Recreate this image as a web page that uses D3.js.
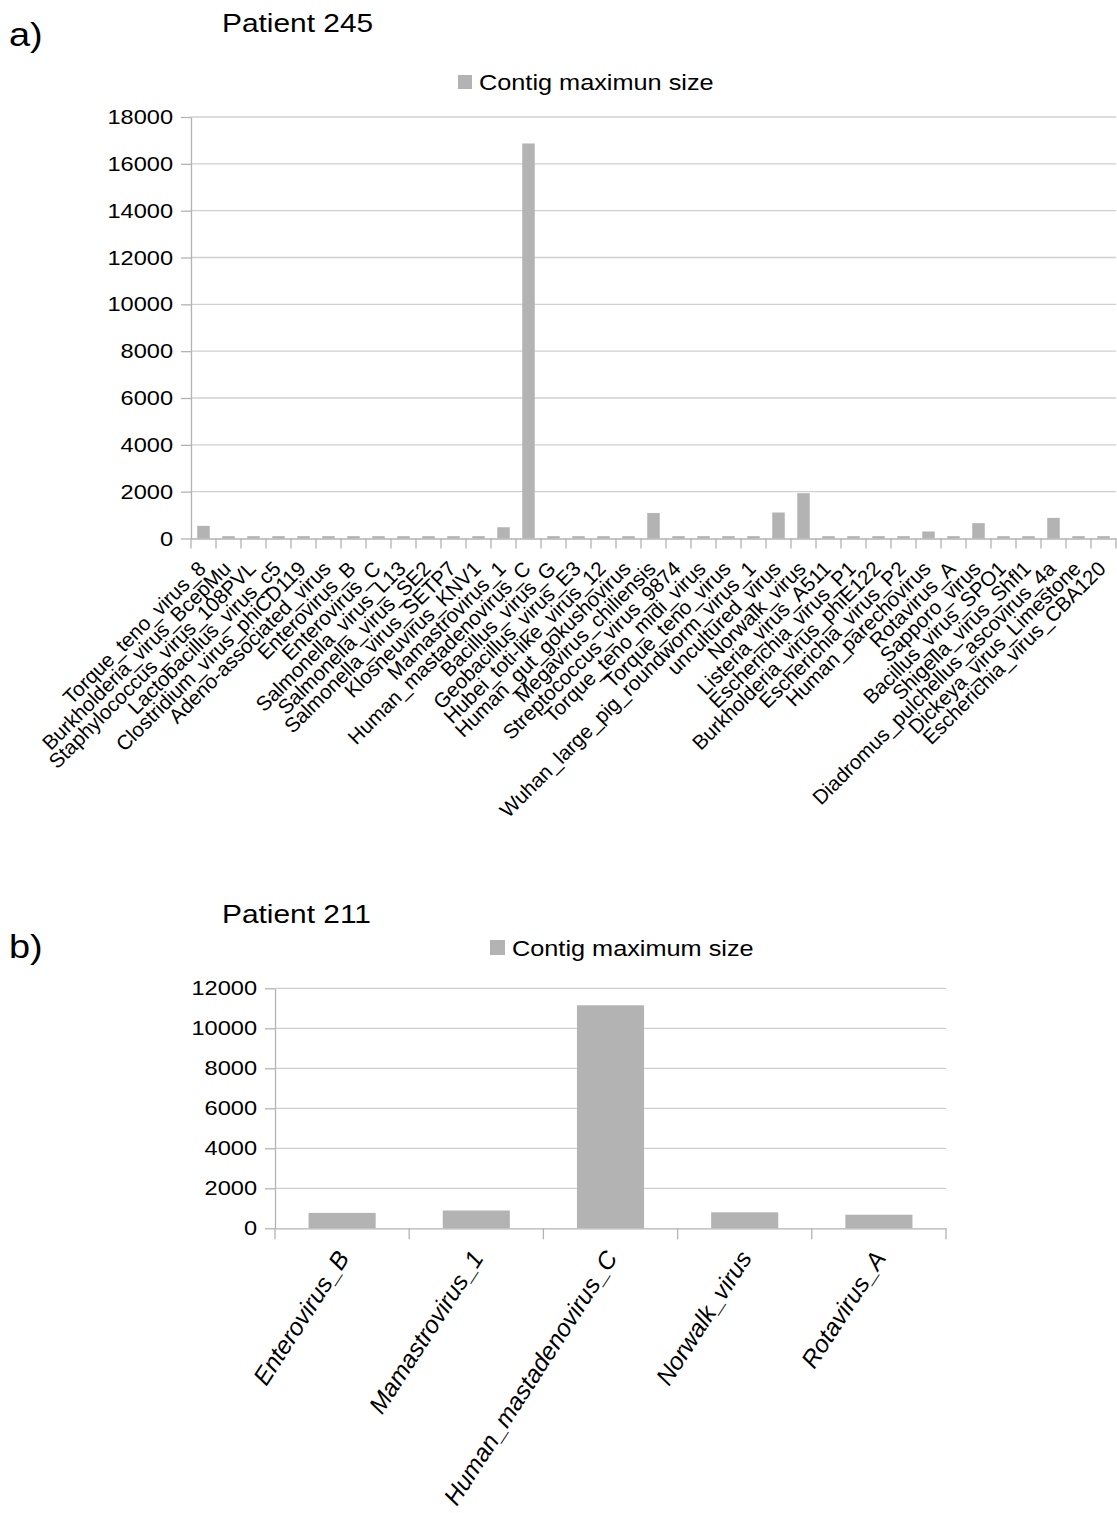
<!DOCTYPE html>
<html>
<head>
<meta charset="utf-8">
<script src="https://cdn.jsdelivr.net/npm/d3@7"></script>
<style>
body { margin:0; background:#fff; }
svg text { font-family:"Liberation Sans", Arial, sans-serif; fill:#000; }
</style>
</head>
<body>
<svg width="1117" height="1513"></svg>
<script>
// patient 245
var virusesA = ["Torque_teno_virus_8","Burkholderia_virus_BcepMu","Staphylococcus_virus_108PVL",
	"Lactobacillus_virus_c5","Clostridium_virus_phiCD119","Adeno-associated_virus","Enterovirus_B",
	"Enterovirus_C","Salmonella_virus_L13","Salmonella_virus_SE2","Salmonella_virus_SETP7",
	"Klosneuvirus_KNV1","Mamastrovirus_1","Human_mastadenovirus_C","Bacillus_virus_G",
	"Geobacillus_virus_E3","Hubei_toti-like_virus_12","Human_gut_gokushovirus","Megavirus_chiliensis",
	"Streptococcus_virus_9874","Torque_teno_midi_virus","Torque_teno_virus",
	"Wuhan_large_pig_roundworm_virus_1","uncultured_virus","Norwalk_virus","Listeria_virus_A511",
	"Escherichia_virus_P1","Burkholderia_virus_phiE122","Escherichia_virus_P2","Human_parechovirus",
	"Rotavirus_A","Sapporo_virus","Bacillus_virus_SPO1","Shigella_virus_Shfl1",
	"Diadromus_pulchellus_ascovirus_4a","Dickeya_virus_Limestone","Escherichia_virus_CBA120"];
var sizesA = [540,100,100,100,100,100,100,100,100,100,100,100,480,16870,100,100,100,100,1090,
	100,100,100,100,1110,1935,100,100,100,100,300,100,655,100,100,880,100,100];
var ticksA = [0,2000,4000,6000,8000,10000,12000,14000,16000,18000];

// patient 211
var virusesB = ["Enterovirus_B","Mamastrovirus_1","Human_mastadenovirus_C","Norwalk_virus","Rotavirus_A"];
var sizesB = [770,890,11150,800,680];
var ticksB = [0,2000,4000,6000,8000,10000,12000];

const BAR = "#b3b3b3";
const AXIS = "#b3b3b3";
const GRID = "#d0d0d0";
const SX = 1.15;	// horizontal text is a little wide in the picture

var svg = d3.select("svg");

function txt(x, y, s, size){
	return svg.append("text")
		.attr("transform", "translate("+x+","+y+") scale("+SX+",1)")
		.attr("font-size", size)
		.text(s);
}

function drawChart(c){
	var g = svg.append("g");
	var x = d3.scaleBand().domain(c.names).range([c.left, c.right])
		.paddingInner(0.5).paddingOuter(0.25);
	var y = d3.scaleLinear().domain([0, c.ticks[c.ticks.length-1]]).range([c.bottom, c.top]);

	g.selectAll(".grid").data(c.ticks.slice(1))
	.enter().append("line")
	.attr("x1", c.left).attr("x2", c.right)
	.attr("y1", function(d){ return y(d); })
	.attr("y2", function(d){ return y(d); })
	.style("stroke", GRID).style("stroke-width", 1.3);

	g.selectAll(".bar").data(c.names)
	.enter().append("rect")
	.attr("x", function(d){ return x(d); })
	.attr("width", x.bandwidth())
	.attr("y", function(d, i){ return y(c.values[i]); })
	.attr("height", function(d, i){ return y(0) - y(c.values[i]); })
	.style("fill", BAR);

	// y axis
	var ya = g.append("g").attr("transform", "translate("+c.left+",0)")
		.call(d3.axisLeft(y).tickValues(c.ticks).tickSize(10).tickSizeOuter(0).tickPadding(8)
			.tickFormat(d3.format("d")));
	ya.attr("font-family", null).attr("font-size", null);
	ya.selectAll("line, path").attr("stroke", AXIS).attr("stroke-width", 1.3);
	ya.selectAll("text").attr("font-size", 20.5)
		.attr("x", -18/SX).attr("transform", "scale("+SX+",1)");

	// x axis, ticks between the bands
	var xa = g.append("g").attr("transform", "translate(0,"+c.bottom+")")
		.call(d3.axisBottom(x).tickValues([]).tickSizeOuter(0));
	xa.select(".domain").attr("stroke", AXIS).attr("stroke-width", 1.3);
	var gap = (x.step() - x.bandwidth())/2;
	var edges = c.names.map(function(d){ return x(d) - gap; });
	edges.push(c.right);
	g.selectAll(".xtick").data(edges)
	.enter().append("line")
	.attr("x1", function(d){ return d; }).attr("x2", function(d){ return d; })
	.attr("y1", c.bottom).attr("y2", c.bottom + c.tickLen)
	.style("stroke", AXIS).style("stroke-width", 1.3);

	g.selectAll(".xlabel").data(c.names)
	.enter().append("text")
	.attr("text-anchor", "end")
	.attr("font-size", c.labelSize)
	.attr("font-style", c.italic ? "italic" : null)
	.attr("transform", function(d){
		return "translate("+(x(d) + x.bandwidth()/2 + c.labelDx)+","+c.labelY+") rotate("+(-c.angle)+")";
	})
	.text(function(d){ return d; });

	// title, panel letter, legend
	txt(9, c.letterY, c.letter, 33);
	txt(222, c.titleY, c.title, 26);
	svg.append("rect").attr("x", c.legendX).attr("y", c.legendY)
		.attr("width", c.legendBox).attr("height", c.legendBox).style("fill", BAR);
	txt(c.legendX + c.legendBox + 7, c.legendY + c.legendBox + 1, c.legend, 22);
}

drawChart({
	names: virusesA, values: sizesA, ticks: ticksA,
	left: 191, right: 1116, top: 117, bottom: 538.5, tickLen: 10,
	labelSize: 20.5, angle: 45, labelDx: 3.5, labelY: 570, italic: false,
	letter: "a)", letterY: 46, title: "Patient 245", titleY: 32,
	legend: "Contig maximun size", legendX: 458, legendY: 75, legendBox: 14
});

drawChart({
	names: virusesB, values: sizesB, ticks: ticksB,
	left: 275, right: 946, top: 988.3, bottom: 1228.3, tickLen: 11,
	labelSize: 24.5, angle: 57, labelDx: 8, labelY: 1258, italic: true,
	letter: "b)", letterY: 958, title: "Patient 211", titleY: 923,
	legend: "Contig maximum size", legendX: 490, legendY: 940, legendBox: 15
});
</script>
</body>
</html>
